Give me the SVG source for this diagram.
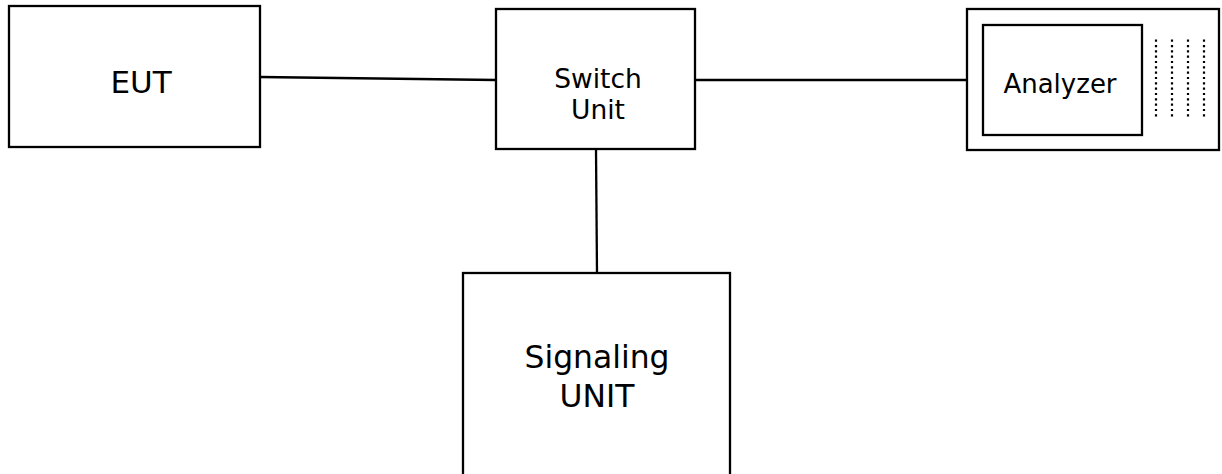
<svg xmlns="http://www.w3.org/2000/svg" width="1222" height="474" viewBox="0 0 1222 474">
<style>
.box{fill:#fff;stroke:#000;stroke-width:2.3}
.ln{fill:none;stroke:#000;stroke-width:2.3}
.dot{fill:none;stroke:#000;stroke-width:2.2;stroke-dasharray:2.2 3.13}
text{font-family:"DejaVu Sans",Verdana,sans-serif;fill:#000;text-anchor:middle}
</style>
<rect width="1222" height="474" fill="#fff"/>
<g id="connectors">
<line class="ln" x1="260" y1="77" x2="496" y2="80"/>
<line class="ln" x1="695" y1="80" x2="967" y2="80"/>
<line class="ln" x1="596" y1="150" x2="597" y2="273"/>
</g>
<g id="eut">
<rect class="box" x="9" y="6" width="251" height="141"/>
<text x="141" y="93" font-size="31">EUT</text>
</g>
<g id="switch">
<rect class="box" x="496" y="9" width="199" height="140"/>
<text x="598" y="88" font-size="26.5">Switch</text>
<text x="598" y="119" font-size="26.5">Unit</text>
</g>
<g id="analyzer">
<rect class="box" x="967" y="9" width="252" height="141"/>
<rect class="box" x="983" y="25" width="159" height="110"/>
<text x="1060" y="93" font-size="26">Analyzer</text>
<line class="dot" x1="1156" y1="39.6" x2="1156" y2="117"/>
<line class="dot" x1="1172" y1="39.6" x2="1172" y2="117"/>
<line class="dot" x1="1188" y1="39.6" x2="1188" y2="117"/>
<line class="dot" x1="1204" y1="39.6" x2="1204" y2="117"/>
</g>
<g id="signaling">
<rect class="box" x="463" y="273" width="267" height="215"/>
<text x="597" y="368" font-size="31.4">Signaling</text>
<text x="597" y="407" font-size="31.4">UNIT</text>
</g>
</svg>
